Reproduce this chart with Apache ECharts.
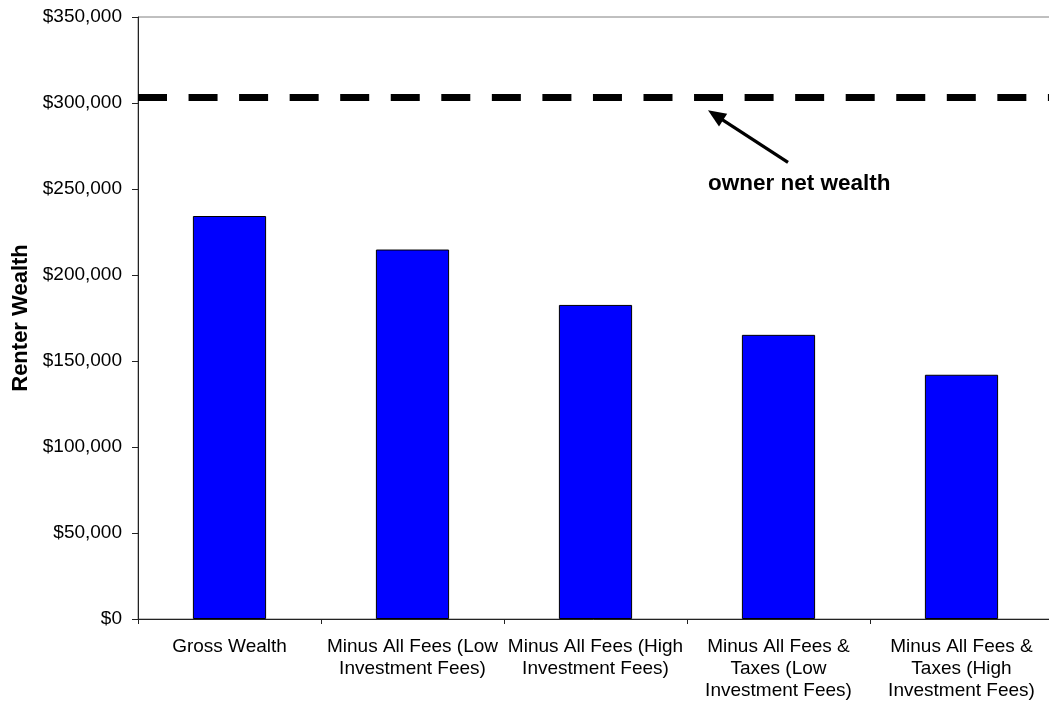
<!DOCTYPE html>
<html>
<head>
<meta charset="utf-8">
<script src="https://cdn.jsdelivr.net/npm/echarts@6/dist/echarts.min.js"></script>
<style>
  html, body { margin: 0; padding: 0; background: #fff; }
  #chart { width: 1049px; height: 704px; }
</style>
</head>
<body>
<div id="chart"></div>
<script>
// Renter wealth under each fee / tax scenario, compared with the owner's net wealth
const categories = [
  'Gross Wealth',
  'Minus All Fees (Low\nInvestment Fees)',
  'Minus All Fees (High\nInvestment Fees)',
  'Minus All Fees &\nTaxes (Low\nInvestment Fees)',
  'Minus All Fees &\nTaxes (High\nInvestment Fees)'
];
const renterWealth = [234300, 214800, 182600, 165200, 142000];
const ownerNetWealth = 303300;
const yTicks = { min: 0, max: 350000, interval: 50000 };

const FONT = '"Liberation Sans", Arial, sans-serif';

const chart = echarts.init(document.getElementById('chart'), null, { renderer: 'canvas' });

chart.setOption({
  animation: false,
  backgroundColor: '#ffffff',
  grid: {
    left: 138, top: 17, width: 915, bottom: 85,
    outerBoundsMode: 'none',
    containLabel: false,
    show: true, borderColor: '#808080', borderWidth: 1, backgroundColor: 'transparent'
  },
  xAxis: {
    type: 'category',
    data: categories,
    boundaryGap: true,
    axisLine: { show: true, lineStyle: { color: '#222', width: 1 } },
    axisTick: { show: true, length: 5, alignWithLabel: false, lineStyle: { color: '#222' } },
    axisLabel: {
      interval: 0, margin: 17, color: '#000', fontFamily: FONT, fontSize: 19, lineHeight: 22
    },
    splitLine: { show: false }
  },
  yAxis: {
    type: 'value',
    min: yTicks.min, max: yTicks.max, interval: yTicks.interval,
    name: 'Renter Wealth',
    nameLocation: 'middle',
    nameGap: 106,
    nameRotate: 90,
    nameTextStyle: { color: '#000', fontFamily: FONT, fontSize: 22, fontWeight: 'bold' },
    axisLine: { show: true, lineStyle: { color: '#222', width: 1 } },
    axisTick: { show: true, length: 6, inside: false, lineStyle: { color: '#222' } },
    axisLabel: {
      margin: 16, color: '#000', fontFamily: FONT, fontSize: 19,
      formatter: v => '$' + v.toLocaleString('en-US')
    },
    splitLine: { show: false }
  },
  series: [{
    type: 'bar',
    data: renterWealth,
    barWidth: '40%',
    itemStyle: { color: '#0000ff', borderColor: '#000', borderWidth: 1 },
    markLine: {
      silent: true,
      symbol: ['none', 'none'],
      label: { show: false },
      lineStyle: { color: '#000', width: 7, type: [29, 21.55], cap: 'butt' },
      data: [{ yAxis: ownerNetWealth }]
    }
  }]
});

// Callout pointing at the owner's net wealth line
const lineY = chart.convertToPixel({ yAxisIndex: 0 }, ownerNetWealth);
const tip = [708, lineY + 13];
const tail = [788, lineY + 65];
const dx = tip[0] - tail[0], dy = tip[1] - tail[1];
const len = Math.hypot(dx, dy);
const ux = dx / len, uy = dy / len;
const headLen = 18, headHalf = 7.5;
const base = [tip[0] - ux * headLen, tip[1] - uy * headLen];
const px = -uy, py = ux;

chart.setOption({
  graphic: [
    {
      type: 'line', silent: true,
      shape: { x1: tail[0], y1: tail[1], x2: base[0] + ux * 2, y2: base[1] + uy * 2 },
      style: { stroke: '#000', lineWidth: 3.2 }
    },
    {
      type: 'polygon', silent: true,
      shape: { points: [
        tip,
        [base[0] + px * headHalf, base[1] + py * headHalf],
        [base[0] - px * headHalf, base[1] - py * headHalf]
      ] },
      style: { fill: '#000' }
    },
    {
      type: 'text', silent: true,
      x: 708, y: lineY + 86,
      style: {
        text: 'owner net wealth', fill: '#000',
        font: 'bold 22.5px ' + FONT, textAlign: 'left', textVerticalAlign: 'middle'
      }
    }
  ]
});
</script>
</body>
</html>
